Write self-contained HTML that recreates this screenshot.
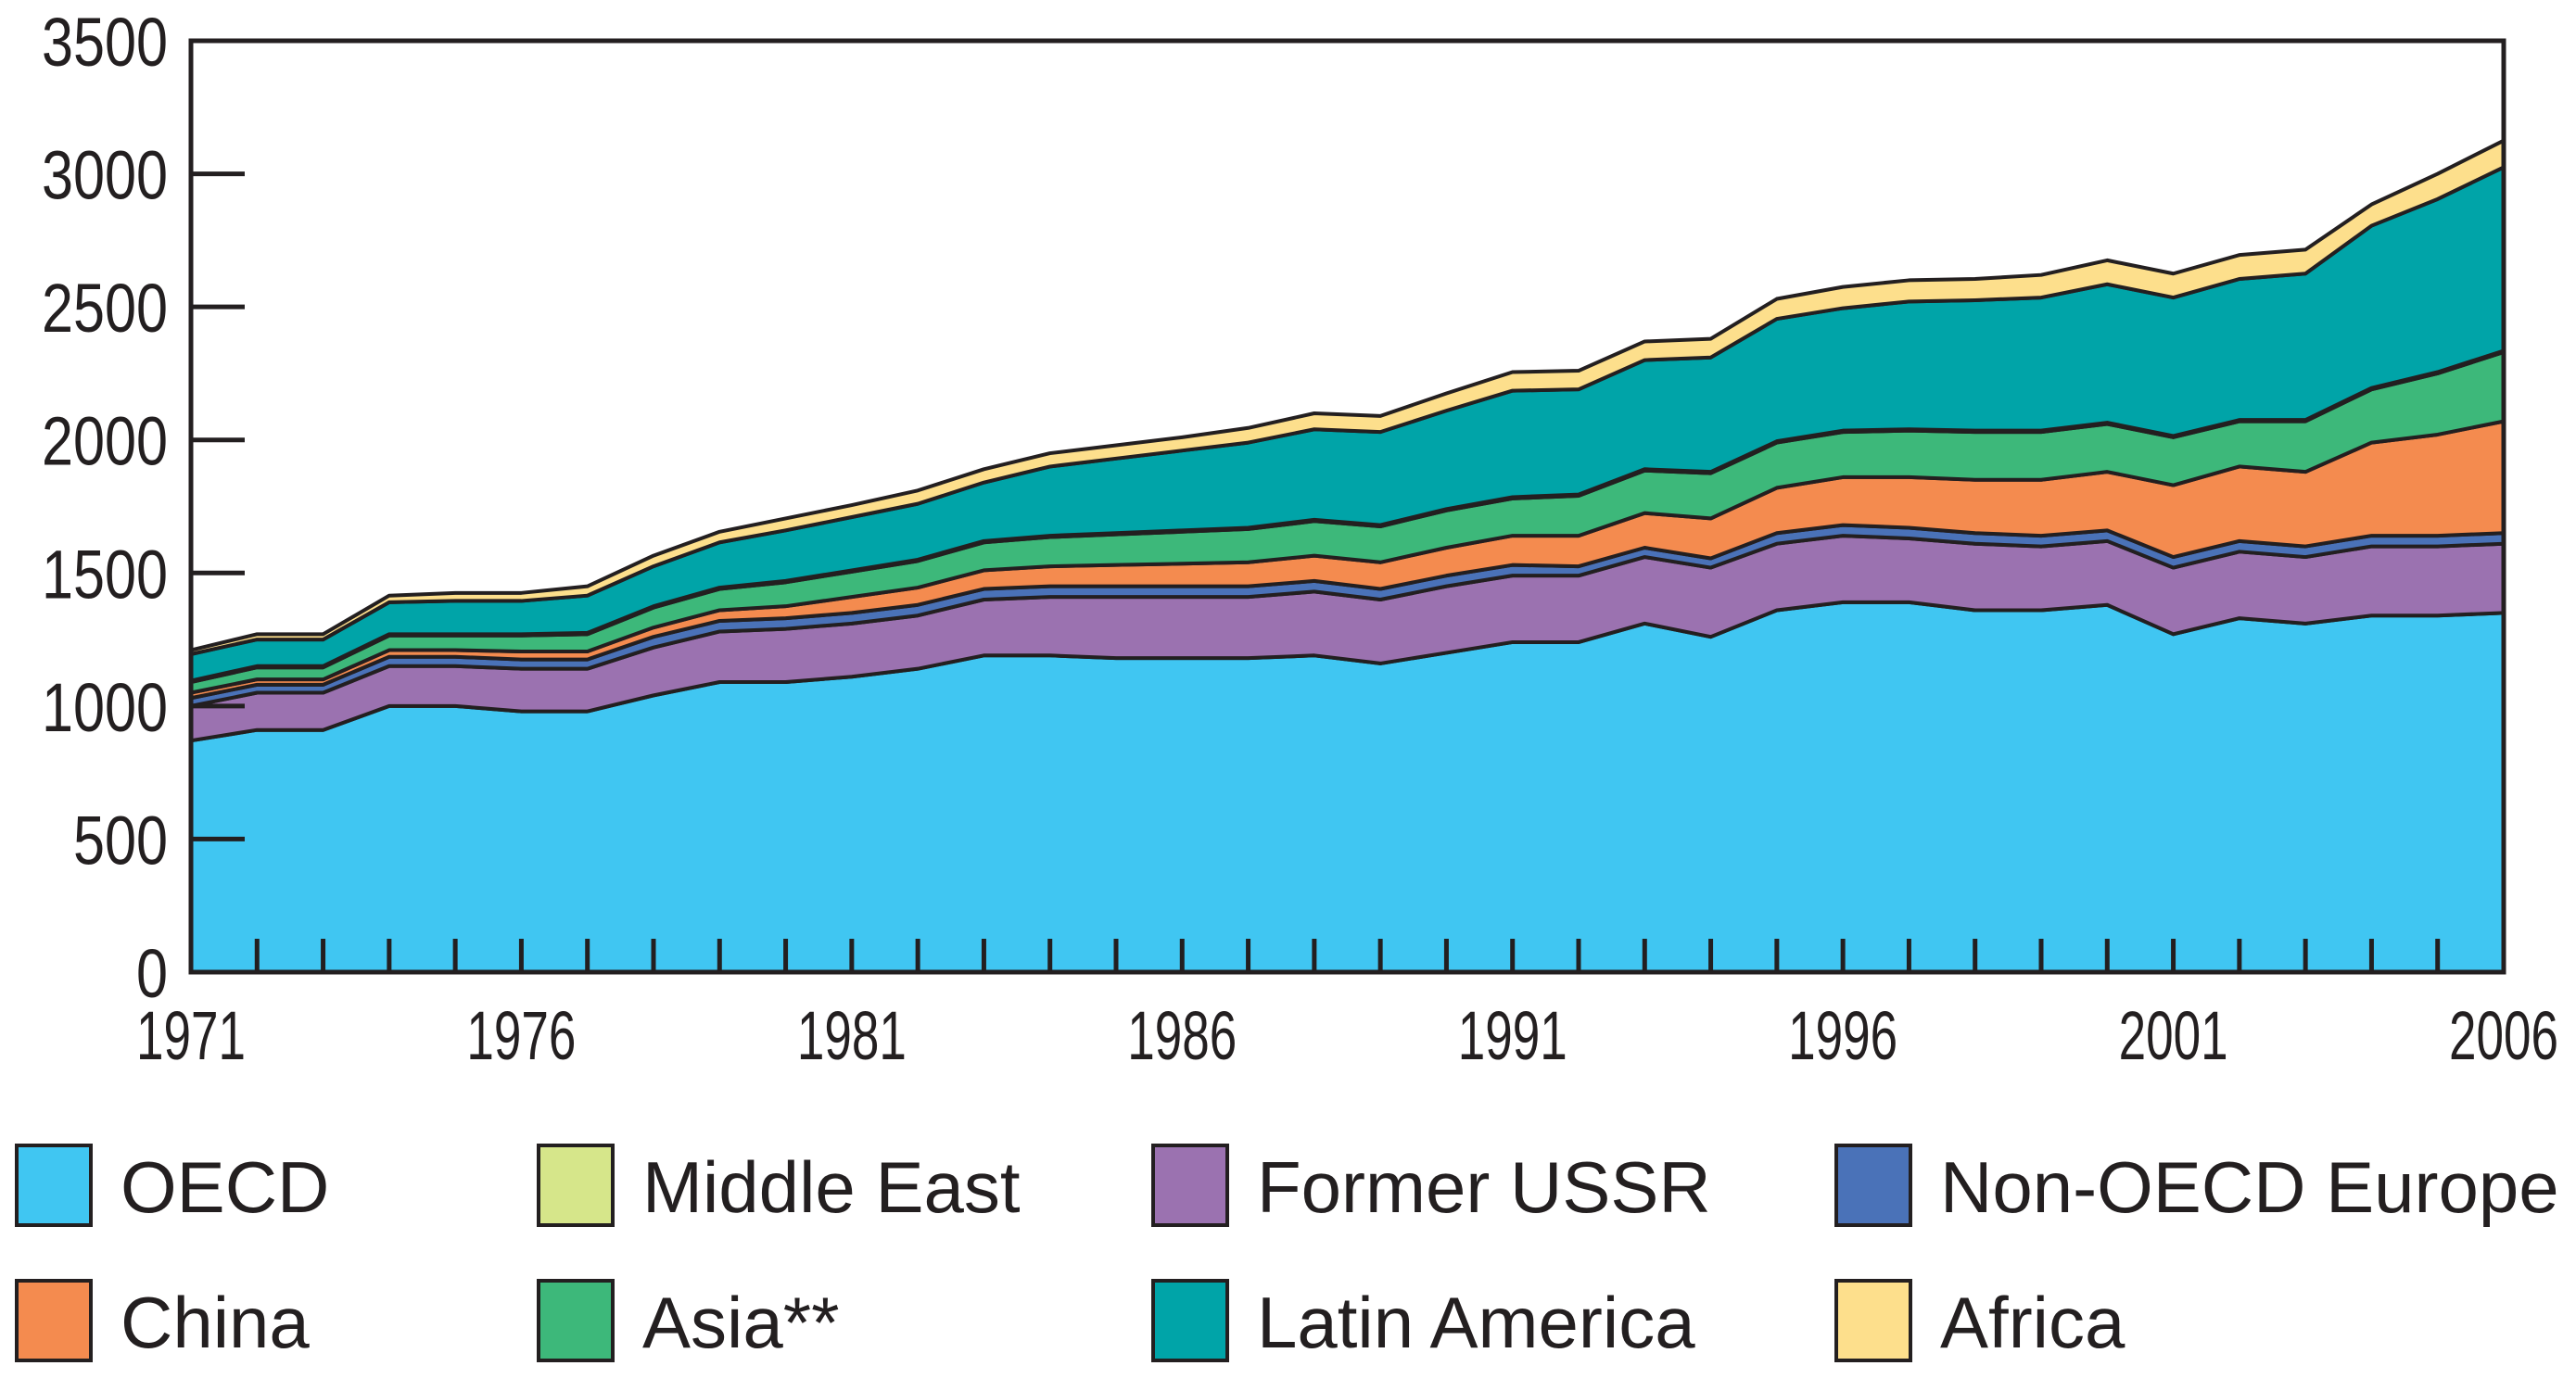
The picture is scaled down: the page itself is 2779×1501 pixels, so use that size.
<!DOCTYPE html>
<html><head><meta charset="utf-8"><style>
body{margin:0;background:#fff;width:2779px;height:1496px;overflow:hidden}
text{font-family:"Liberation Sans",sans-serif;fill:#231f20}
</style></head><body>
<svg id="chart" width="2779" height="1496" viewBox="0 0 2779 1496">
<g id="areas"></g>
<g id="axes"></g>
<g id="legend"></g>
</svg>
<script>
const years=[1971,1972,1973,1974,1975,1976,1977,1978,1979,1980,1981,1982,1983,1984,1985,1986,1987,1988,1989,1990,1991,1992,1993,1994,1995,1996,1997,1998,1999,2000,2001,2002,2003,2004,2005,2006];
const seriesNames=["OECD","Former USSR","Non-OECD Europe","China","Asia**","Middle East","Latin America","Africa"];
const oecd=[870,910,910,1000,1000,980,980,1040,1090,1090,1110,1140,1190,1190,1180,1180,1180,1190,1160,1200,1240,1240,1310,1260,1360,1390,1390,1360,1360,1380,1270,1330,1310,1340,1340,1350];
const ussr=[130,140,140,150,150,160,160,180,190,200,200,200,210,220,230,230,230,240,240,250,250,250,250,260,250,250,240,250,240,240,250,250,250,260,260,260];
const nonOecdEurope=[30,30,30,35,35,35,35,40,40,40,40,40,40,40,40,40,40,40,40,40,40,35,35,35,40,40,40,40,40,40,40,40,40,40,40,40];
const china=[20,20,20,25,25,30,30,35,40,45,60,65,70,75,80,85,90,95,100,105,110,115,130,150,170,180,190,200,210,220,270,280,280,350,380,420];
const asia=[40,45,45,55,55,60,65,75,80,90,95,100,105,110,115,120,125,130,135,140,140,150,160,170,170,170,175,180,180,180,180,170,190,200,230,260];
const middleEast=[5,5,5,5,5,5,5,5,5,5,5,5,5,5,5,5,5,5,5,5,5,5,5,5,5,5,5,5,5,5,5,5,5,5,5,5];
const latinAmerica=[100,100,100,120,125,125,140,150,170,190,200,210,220,260,280,300,320,340,350,370,400,395,410,430,460,460,480,490,500,520,520,530,550,610,650,690];
const africa=[15,20,20,25,30,30,35,40,40,45,45,50,50,50,50,50,55,60,60,65,70,70,70,70,75,80,80,80,85,90,90,90,90,80,95,100];
const series=[oecd,ussr,nonOecdEurope,china,asia,middleEast,latinAmerica,africa];
const colors=["#40c6f2","#9b72b0","#4a72b8","#f48b4f","#3db87a","#d6e68a","#00a4a8","#fddf8c"];
const yTicks=[0,500,1000,1500,2000,2500,3000,3500];
const xLabels=[1971,1976,1981,1986,1991,1996,2001,2006];
const legendOrder=["OECD","Middle East","Former USSR","Non-OECD Europe","China","Asia**","Latin America","Africa"];

const L=206,R=2701,T=44,B=1049,NS="http://www.w3.org/2000/svg";
const x=y=>L+(y-1971)/(2006-1971)*(R-L);
const yv=v=>B-v/3500*(B-T);
function mk(tag,attrs,parent){const e=document.createElementNS(NS,tag);for(const k in attrs)e.setAttribute(k,attrs[k]);parent.appendChild(e);return e;}
const areas=document.getElementById('areas'),axes=document.getElementById('axes'),legend=document.getElementById('legend');
let base=years.map(()=>0);
series.forEach((s,i)=>{
  const top=base.map((b,j)=>b+s[j]);
  let d="M"+years.map((yr,j)=>x(yr)+","+yv(top[j])).join(" L");
  for(let j=years.length-1;j>=0;j--)d+=" L"+x(years[j])+","+yv(base[j]);
  d+=" Z";
  const p=mk('path',{d:d,fill:colors[i],stroke:"#231f20","stroke-width":4,"stroke-linejoin":"round"},areas);
  
  
  base=top;
});
const fr=mk('rect',{x:L,y:T,width:R-L,height:B-T,fill:"none",stroke:"#231f20","stroke-width":5},axes);


yTicks.forEach(v=>{
  if(v>0&&v<3500){const t=mk('line',{x1:L,x2:L+58,y1:yv(v),y2:yv(v),stroke:"#231f20","stroke-width":5},axes);
  
  }
  const s=String(v);
  const tx=mk('text',{x:181,y:yv(v)+27,"text-anchor":"end","font-size":74,textLength:34*s.length,lengthAdjust:"spacingAndGlyphs"},axes);tx.textContent=s;
  
  
});
years.forEach(yr=>{
  if(yr>1971&&yr<2006){const t=mk('line',{x1:x(yr),x2:x(yr),y1:B,y2:B-36,stroke:"#231f20","stroke-width":5},axes);
  
  }
});
xLabels.forEach(yr=>{
  const tx=mk('text',{x:x(yr),y:1143,"text-anchor":"middle","font-size":74,textLength:118,lengthAdjust:"spacingAndGlyphs"},axes);tx.textContent=yr;
  
  
});
const colX=[18,581,1244,1981],rowY=[1236,1382];
legendOrder.forEach((n,k)=>{
  const c=k%4,r=Math.floor(k/4),i=seriesNames.indexOf(n);
  const g=mk('g',{},legend);
  
  
  mk('rect',{x:colX[c],y:rowY[r],width:80,height:86,fill:colors[i],stroke:"#231f20","stroke-width":4},g);
  const t=mk('text',{x:colX[c]+112,y:rowY[r]+72,"font-size":78},g);t.textContent=n;
});
</script>
</body></html>
